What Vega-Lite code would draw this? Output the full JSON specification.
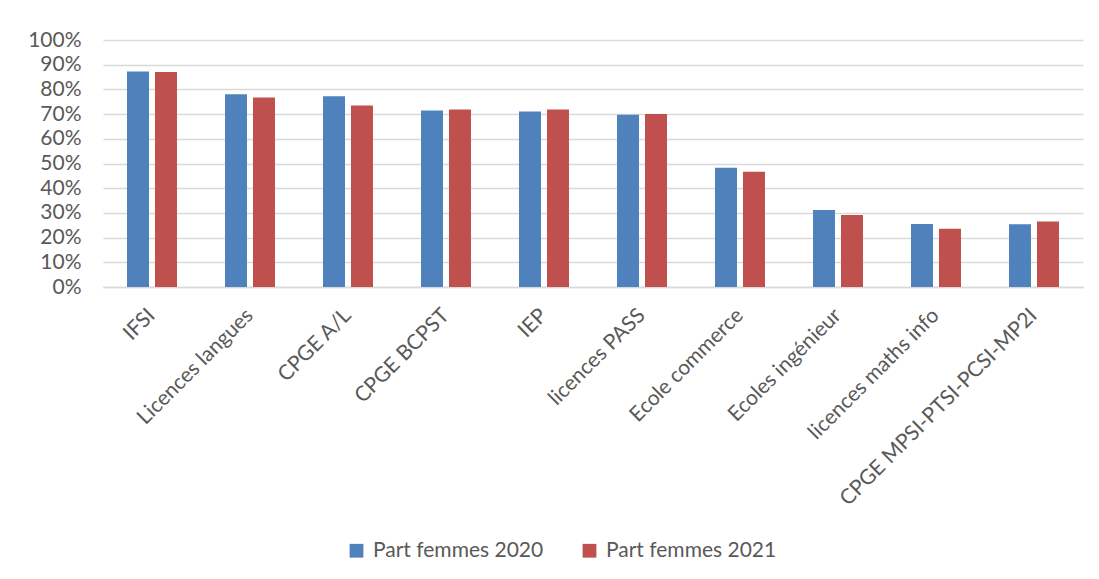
{
  "$schema": "https://vega.github.io/schema/vega-lite/v6.json",
  "autosize": "none",
  "width": 980,
  "height": 247,
  "padding": {"left": 103, "top": 40, "right": 16, "bottom": 292},
  "background": "white",
  "data": {
    "values": [
      {"cat": "IFSI", "serie": "Part femmes 2020", "v": 0.872},
      {"cat": "IFSI", "serie": "Part femmes 2021", "v": 0.870},
      {"cat": "Licences langues", "serie": "Part femmes 2020", "v": 0.780},
      {"cat": "Licences langues", "serie": "Part femmes 2021", "v": 0.767},
      {"cat": "CPGE A/L", "serie": "Part femmes 2020", "v": 0.772},
      {"cat": "CPGE A/L", "serie": "Part femmes 2021", "v": 0.735},
      {"cat": "CPGE BCPST", "serie": "Part femmes 2020", "v": 0.715},
      {"cat": "CPGE BCPST", "serie": "Part femmes 2021", "v": 0.719},
      {"cat": "IEP", "serie": "Part femmes 2020", "v": 0.711},
      {"cat": "IEP", "serie": "Part femmes 2021", "v": 0.719},
      {"cat": "licences PASS", "serie": "Part femmes 2020", "v": 0.697},
      {"cat": "licences PASS", "serie": "Part femmes 2021", "v": 0.700},
      {"cat": "Ecole commerce", "serie": "Part femmes 2020", "v": 0.483},
      {"cat": "Ecole commerce", "serie": "Part femmes 2021", "v": 0.467},
      {"cat": "Ecoles ingénieur", "serie": "Part femmes 2020", "v": 0.312},
      {"cat": "Ecoles ingénieur", "serie": "Part femmes 2021", "v": 0.292},
      {"cat": "licences maths info", "serie": "Part femmes 2020", "v": 0.255},
      {"cat": "licences maths info", "serie": "Part femmes 2021", "v": 0.236},
      {"cat": "CPGE MPSI-PTSI-PCSI-MP2I", "serie": "Part femmes 2020", "v": 0.254},
      {"cat": "CPGE MPSI-PTSI-PCSI-MP2I", "serie": "Part femmes 2021", "v": 0.265}
    ]
  },
  "mark": {"type": "bar"},
  "encoding": {
    "x": {
      "field": "cat", "type": "nominal", "sort": null,
      "scale": {"paddingInner": 0.49, "paddingOuter": 0.245},
      "axis": {
        "title": null, "labelAngle": -45, "labelAlign": "right", "labelBaseline": "middle",
        "labelPadding": 25, "ticks": false, "domain": true, "domainColor": "#d9d9d9", "domainWidth": 1.5,
        "labelFont": "Lato", "labelFontSize": 21, "labelColor": "#595959", "labelLimit": 400, "labelOverlap": false
      }
    },
    "xOffset": {"field": "serie", "type": "nominal", "scale": {"paddingInner": 0.214}},
    "y": {
      "field": "v", "type": "quantitative",
      "scale": {"domain": [0, 1], "nice": false},
      "axis": {
        "title": null, "format": ".0%", "values": [0,0.1,0.2,0.3,0.4,0.5,0.6,0.7,0.8,0.9,1],
        "labelOverlap": false, "labelBaseline": "middle",
        "domain": false, "ticks": false, "labelPadding": 22,
        "grid": true, "gridColor": "#d9d9d9", "gridWidth": 1.5,
        "labelFont": "Lato", "labelFontSize": 21, "labelColor": "#595959"
      }
    },
    "color": {
      "field": "serie", "type": "nominal",
      "scale": {"range": ["#4F81BD", "#C0504D"]},
      "legend": {
        "title": null, "orient": "none", "direction": "horizontal",
        "legendX": 243, "legendY": 500,
        "symbolType": "square", "symbolSize": 190, "symbolStrokeWidth": 0,
        "labelFont": "Lato", "labelFontSize": 21, "labelColor": "#595959", "labelLimit": 400,
        "labelOffset": 6, "columnPadding": 35
      }
    }
  },
  "config": {"view": {"stroke": null}}
}
